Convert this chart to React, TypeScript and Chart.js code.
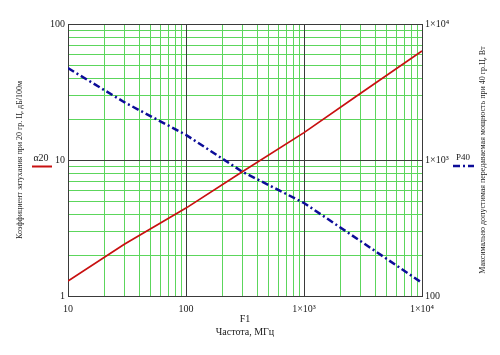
import React, { useEffect, useRef } from 'react';
import { Chart, registerables } from 'chart.js';

Chart.register(...registerables);

// Frequency (MHz) sample points
const FREQ = [10, 30, 100, 300, 1000, 3000, 10000];
// Attenuation at 20 °C, dB/100m (left axis)
const ALPHA20 = [1.29, 2.4, 4.43, 8.2, 15.9, 30.8, 63.3];
// Max power at 40 °C, W (right axis)
const P40 = [4740, 2660, 1530, 820, 483, 254, 125];

// Grid line positions
const X_GRID = [10, 20, 30, 40, 50, 60, 70, 80, 90, 100, 200, 300, 400, 500, 600, 700, 800, 900, 1000, 2000, 3000, 4000, 5000, 6000, 7000, 8000, 9000, 10000];
const Y_GRID = [1, 2, 3, 4, 5, 6, 7, 8, 9, 10, 20, 30, 40, 50, 60, 70, 80, 90, 100];

// Tick labels
const X_MAJOR = [10, 100, 1000, 10000];
const X_LABELS = ['10', '100', '1×10³', '1×10⁴'];
const Y_MAJOR = [1, 10, 100];
const Y_LABELS = ['1', '10', '100'];
const Y2_MAJOR = [100, 1000, 10000];
const Y2_LABELS = ['100', '1×10³', '1×10⁴'];

const Y_TITLE = 'Коэффициент затухания при 20 гр. Ц, дБ/100м';
const Y2_TITLE = 'Максимально допустимая передаваемая мощность при 40 гр.Ц, Вт';
const X_VAR = 'F1';
const X_TITLE = 'Частота, МГц';
const SERIES1 = 'α20';
const SERIES2 = 'P40';

const FONT = '"Liberation Serif", "Times New Roman", serif';
const RED = '#c81010';
const BLUE = '#0c0c98';
const MAJOR_GRID = '#3a3a3a';
const MINOR_GRID = '#5cd65c';
const TEXT = '#1a1a1a';

const isDecade = (v: number) => Math.abs(Math.log10(v) - Math.round(Math.log10(v))) < 1e-9;

const labelFor = (majors: number[], labels: string[]) => (v: any) => {
  const val = Number(v);
  const i = majors.findIndex((m) => Math.abs(m - val) < 1e-6 * m);
  return i >= 0 ? labels[i] : '';
};

const gridPlugin = {
  id: 'gridPlugin',
  beforeDatasetsDraw(chart: any) {
    const ctx = chart.ctx as CanvasRenderingContext2D;
    const ca = chart.chartArea;
    const xs = chart.scales.x;
    const ys = chart.scales.y;
    const crisp = (p: number) => Math.round(p) + 0.5;
    ctx.save();
    ctx.lineWidth = 1;
    for (const pass of [false, true]) {
      ctx.strokeStyle = pass ? MAJOR_GRID : MINOR_GRID;
      ctx.beginPath();
      for (const v of X_GRID) {
        if (isDecade(v) !== pass) continue;
        const px = crisp(xs.getPixelForValue(v));
        ctx.moveTo(px, ca.top);
        ctx.lineTo(px, ca.bottom);
      }
      for (const v of Y_GRID) {
        if (isDecade(v) !== pass) continue;
        const py = crisp(ys.getPixelForValue(v));
        ctx.moveTo(ca.left, py);
        ctx.lineTo(ca.right, py);
      }
      ctx.stroke();
    }
    ctx.restore();
  },
};

const overlay = {
  id: 'overlay',
  afterDraw(chart: any) {
    const ctx = chart.ctx as CanvasRenderingContext2D;
    const ca = chart.chartArea;
    const midY = (ca.top + ca.bottom) / 2;
    const midX = (ca.left + ca.right) / 2;
    ctx.save();
    ctx.fillStyle = TEXT;
    ctx.textAlign = 'center';
    ctx.textBaseline = 'middle';

    // axis titles
    ctx.font = `8px ${FONT}`;
    ctx.save();
    ctx.translate(20, midY);
    ctx.rotate(-Math.PI / 2);
    ctx.fillText(Y_TITLE, 0, 0);
    ctx.restore();

    ctx.save();
    ctx.translate(483, midY);
    ctx.rotate(-Math.PI / 2);
    ctx.fillText(Y2_TITLE, 0, 0);
    ctx.restore();

    ctx.font = `10px ${FONT}`;
    ctx.fillText(X_VAR, midX, 319);
    ctx.fillText(X_TITLE, midX, 332);

    // legend alpha20
    ctx.font = `10px ${FONT}`;
    ctx.fillText(SERIES1, 41, 158);
    ctx.strokeStyle = RED;
    ctx.lineWidth = 2;
    ctx.beginPath();
    ctx.moveTo(32, 166.5);
    ctx.lineTo(52, 166.5);
    ctx.stroke();

    // legend P40
    ctx.font = `9px ${FONT}`;
    ctx.fillText(SERIES2, 463, 158);
    ctx.strokeStyle = BLUE;
    ctx.lineWidth = 2.5;
    ctx.setLineDash([7, 3, 2, 3]);
    ctx.beginPath();
    ctx.moveTo(453, 166);
    ctx.lineTo(474, 166);
    ctx.stroke();
    ctx.restore();
  },
};

export default function App() {
  const ref = useRef<HTMLCanvasElement | null>(null);

  useEffect(() => {
    if (!ref.current) return;
    const chart = new Chart(ref.current, {
      type: 'line',
      data: {
        datasets: [
          {
            label: SERIES1,
            data: FREQ.map((f, i) => ({ x: f, y: ALPHA20[i] })),
            borderColor: RED,
            borderWidth: 1.7,
            pointRadius: 0,
            yAxisID: 'y',
            tension: 0,
          },
          {
            label: SERIES2,
            data: FREQ.map((f, i) => ({ x: f, y: P40[i] })),
            borderColor: BLUE,
            borderWidth: 2.5,
            borderDash: [7, 3, 2, 3],
            pointRadius: 0,
            yAxisID: 'y2',
            tension: 0,
          },
        ],
      },
      options: {
        responsive: false,
        animation: false,
        layout: { padding: { top: 24, left: 0, right: 0, bottom: 0 } },
        plugins: { legend: { display: false }, tooltip: { enabled: false } },
        scales: {
          x: {
            type: 'logarithmic',
            min: 10,
            max: 10000,
            afterFit: (s: any) => { s.height = 59; },
            afterBuildTicks: (s: any) => { s.ticks = X_MAJOR.map((v) => ({ value: v, major: true })); },
            grid: { display: false, drawTicks: false },
            border: { display: true, color: MAJOR_GRID },
            ticks: {
              autoSkip: false,
              maxRotation: 0,
              padding: 7,
              color: TEXT,
              font: { family: FONT, size: 10 },
              callback: labelFor(X_MAJOR, X_LABELS),
            },
          },
          y: {
            type: 'logarithmic',
            position: 'left',
            min: 1,
            max: 100,
            afterFit: (s: any) => { s.width = 68; },
            afterBuildTicks: (s: any) => { s.ticks = Y_MAJOR.map((v) => ({ value: v, major: true })); },
            grid: { display: false, drawTicks: false },
            border: { display: true, color: MAJOR_GRID },
            ticks: {
              autoSkip: false,
              padding: 3,
              color: TEXT,
              font: { family: FONT, size: 10 },
              callback: labelFor(Y_MAJOR, Y_LABELS),
            },
          },
          y2: {
            type: 'logarithmic',
            position: 'right',
            min: 100,
            max: 10000,
            afterFit: (s: any) => { s.width = 78; },
            afterBuildTicks: (s: any) => { s.ticks = Y2_MAJOR.map((v) => ({ value: v, major: true })); },
            grid: { display: false, drawTicks: false },
            border: { display: true, color: MAJOR_GRID },
            ticks: {
              autoSkip: false,
              padding: 3,
              color: TEXT,
              font: { family: FONT, size: 10 },
              callback: labelFor(Y2_MAJOR, Y2_LABELS),
            },
          },
        },
      },
      plugins: [gridPlugin, overlay],
    } as any);
    return () => chart.destroy();
  }, []);

  return (
    <div style={{ position: 'absolute', left: 0, top: 0, width: 500, height: 355, background: '#fff' }}>
      <canvas ref={ref} width={500} height={355} style={{ display: 'block' }} />
    </div>
  );
}
